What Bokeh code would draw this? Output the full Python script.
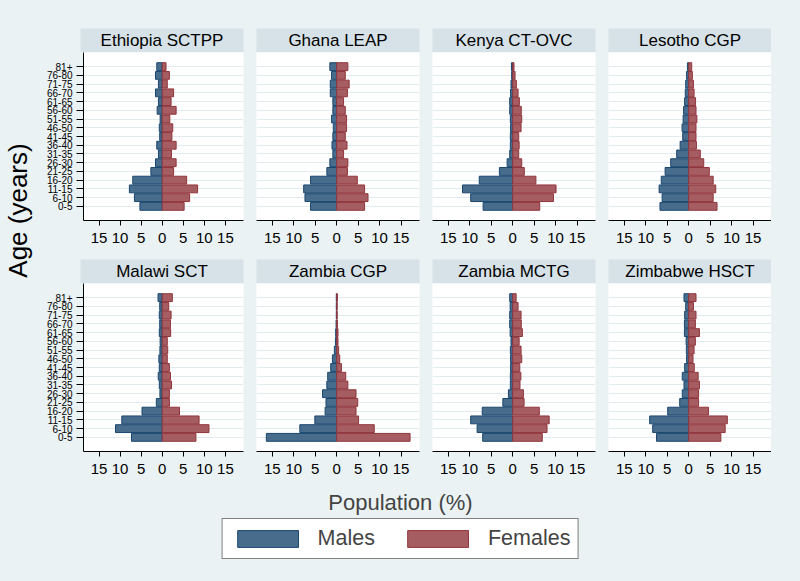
from bokeh.plotting import figure
from bokeh.layouts import row, column
from bokeh.models import (ColumnDataSource, FactorRange, Range1d, FixedTicker, Label,
                          Legend, LegendItem, Spacer, Title, GlobalInlineStyleSheet)
from bokeh.embed import file_html
from bokeh.resources import INLINE

# ---------------- data ----------------
age_groups = ["0-5", "6-10", "11-15", "16-20", "21-25", "26-30", "31-35", "36-40", "41-45",
              "46-50", "51-55", "56-60", "61-65", "66-70", "71-75", "76-80", "81+"]

programs = ["Ethiopia SCTPP", "Ghana LEAP", "Kenya CT-OVC", "Lesotho CGP",
            "Malawi SCT", "Zambia CGP", "Zambia MCTG", "Zimbabwe HSCT"]

ethiopia_m = [5.3, 6.6, 7.8, 7.0, 2.7, 1.6, 0.9, 1.3, 0.6, 0.7, 0.5, 1.2, 0.9, 1.6, 0.9, 1.6, 1.3]
ethiopia_f = [5.2, 6.5, 8.4, 5.8, 2.7, 3.3, 2.2, 3.3, 2.3, 2.5, 1.8, 3.3, 2.1, 2.7, 1.2, 1.7, 0.9]
ghana_m = [6.1, 7.4, 7.7, 6.1, 2.3, 1.6, 0.9, 1.1, 0.9, 0.8, 1.2, 0.9, 0.9, 1.5, 1.5, 1.2, 1.6]
ghana_f = [6.5, 7.3, 6.5, 4.8, 2.5, 2.6, 1.6, 2.4, 2.0, 2.3, 2.3, 2.0, 1.6, 2.5, 2.9, 2.0, 2.6]
kenya_m = [6.9, 9.8, 11.7, 7.8, 3.1, 1.3, 0.7, 0.55, 0.55, 0.5, 0.55, 0.7, 0.7, 0.5, 0.4, 0.25, 0.3]
kenya_f = [6.3, 9.5, 10.1, 5.4, 2.7, 2.1, 1.4, 1.5, 1.4, 1.95, 2.1, 2.0, 1.55, 1.25, 0.85, 0.55, 0.3]
lesotho_m = [6.7, 6.2, 6.9, 6.4, 5.5, 4.2, 2.8, 2.0, 1.4, 1.55, 1.3, 1.2, 0.95, 0.8, 0.7, 0.5, 0.3]
lesotho_f = [6.6, 5.7, 6.3, 5.7, 4.8, 3.5, 2.7, 1.8, 1.7, 1.7, 1.9, 1.7, 1.6, 1.25, 1.1, 0.85, 0.7]
malawi_m = [7.3, 11.1, 9.6, 4.8, 1.4, 0.55, 0.7, 0.95, 0.7, 0.8, 0.55, 0.5, 0.7, 0.6, 0.7, 0.6, 1.0]
malawi_f = [8.0, 11.1, 8.75, 4.1, 1.7, 1.7, 2.2, 1.95, 1.7, 1.2, 1.3, 1.2, 2.0, 1.95, 2.1, 1.55, 2.4]
zambia_cgp_m = [16.4, 8.6, 5.1, 2.7, 2.5, 3.3, 2.3, 2.1, 1.4, 1.0, 0.55, 0.3, 0.25, 0.15, 0.1, 0.1, 0.1]
zambia_cgp_f = [17.1, 8.75, 5.1, 4.5, 4.9, 4.5, 2.6, 2.1, 1.1, 0.7, 0.45, 0.3, 0.3, 0.15, 0.1, 0.1, 0.15]
zambia_mctg_m = [7.0, 8.3, 9.8, 7.1, 2.3, 1.0, 0.55, 0.55, 0.5, 0.5, 0.55, 0.4, 0.6, 0.7, 0.7, 0.6, 0.7]
zambia_mctg_f = [6.9, 8.0, 8.5, 6.2, 2.65, 2.5, 1.7, 1.9, 1.65, 2.1, 1.95, 1.5, 2.25, 2.0, 1.95, 1.25, 0.8]
zimbabwe_m = [7.5, 8.4, 9.1, 4.9, 2.1, 1.5, 1.1, 1.5, 0.95, 0.5, 0.55, 0.6, 1.0, 1.0, 0.95, 0.7, 1.1]
zimbabwe_f = [7.5, 8.5, 9.0, 4.6, 2.3, 2.3, 2.5, 2.2, 1.3, 1.0, 1.25, 1.55, 2.5, 1.55, 1.7, 1.1, 1.7]

males = [ethiopia_m, ghana_m, kenya_m, lesotho_m, malawi_m, zambia_cgp_m, zambia_mctg_m, zimbabwe_m]
females = [ethiopia_f, ghana_f, kenya_f, lesotho_f, malawi_f, zambia_cgp_f, zambia_mctg_f, zimbabwe_f]

x_ticks = [-15, -10, -5, 0, 5, 10, 15]
x_tick_labels = ["15", "10", "5", "0", "5", "10", "15"]

legend_labels = ["Males", "Females"]

# ---------------- style ----------------
BG = "#eaf2f3"
STRIP = "#d6e2e7"
GRID = "#e2ebee"
MALE_FILL, MALE_LINE = "#486c8c", "#1a476f"
FEM_FILL, FEM_LINE = "#a65d62", "#90353b"
FONT = "Liberation Sans"

FRAME_W, FRAME_H = 163, 168
GAP = 13
LEFT_AX = 37
AXIS_H = 39
STRIP_H = 24
AGE_W = 43


def fig_width(col):
    return FRAME_W + (LEFT_AX if col == 0 else 0) + (0 if col == 3 else GAP)


def make_strip(name, col):
    s = figure(width=fig_width(col), height=STRIP_H, x_range=Range1d(0, 1), y_range=Range1d(0, 1),
               output_backend="svg", toolbar_location=None,
               x_axis_location=None, y_axis_location=None,
               min_border_left=LEFT_AX if col == 0 else 0,
               min_border_right=0 if col == 3 else GAP,
               min_border_top=0, min_border_bottom=0)
    s.background_fill_color = STRIP
    s.border_fill_color = BG
    s.outline_line_color = None
    s.grid.visible = False
    s.add_layout(Label(x=0.5, y=0.5, text=name, text_align="center", text_baseline="middle",
                       text_font_size="17px", text_font=FONT, text_font_style="normal",
                       text_color="black"))
    return s


def make_panel(m_vals, f_vals, col, axis_h):
    p = figure(width=fig_width(col), height=FRAME_H + axis_h,
               x_range=Range1d(-18.7, 19.3),
               y_range=FactorRange(*age_groups, range_padding=1.12, range_padding_units="absolute"),
               output_backend="svg", toolbar_location=None,
               y_axis_location="left" if col == 0 else None,
               min_border_left=LEFT_AX if col == 0 else 0,
               min_border_right=0 if col == 3 else GAP,
               min_border_top=0, min_border_bottom=axis_h)
    p.background_fill_color = "white"
    p.border_fill_color = BG
    p.outline_line_color = None
    p.xgrid.visible = False
    p.ygrid.grid_line_color = GRID
    p.ygrid.grid_line_width = 1.2

    src = ColumnDataSource(dict(age=age_groups, m=[-v for v in m_vals], f=f_vals))
    p.hbar(y="age", left="m", right=0, height=0.9, source=src,
           fill_color=MALE_FILL, line_color=MALE_LINE, line_width=1)
    p.hbar(y="age", left=0, right="f", height=0.9, source=src,
           fill_color=FEM_FILL, line_color=FEM_LINE, line_width=1)

    xa = p.xaxis[0]
    xa.ticker = FixedTicker(ticks=x_ticks)
    xa.major_label_overrides = {t: l for t, l in zip(x_ticks, x_tick_labels)}
    xa.major_tick_out = 5
    xa.major_tick_in = 0
    xa.minor_tick_out = 0
    xa.minor_tick_in = 0
    xa.axis_line_color = "black"
    xa.major_tick_line_color = "black"
    xa.major_label_text_font_size = "15px"
    xa.major_label_text_font = FONT
    xa.major_label_text_color = "black"
    xa.major_label_standoff = 7

    if col == 0:
        ya = p.yaxis[0]
        ya.major_tick_out = 7
        ya.major_tick_in = 0
        ya.axis_line_color = "black"
        ya.major_tick_line_color = "black"
        ya.major_label_text_font_size = "10px"
        ya.major_label_text_font = FONT
        ya.major_label_text_color = "black"
        ya.major_label_standoff = 4
    return p


strips = [make_strip(n, i % 4) for i, n in enumerate(programs)]
panels = [make_panel(males[i], females[i], i % 4, AXIS_H if i < 4 else 36)
          for i in range(len(programs))]

grid_col = column(
    Spacer(height=28),
    row(*strips[:4]),
    row(*panels[:4]),
    row(*strips[4:]),
    row(*panels[4:]),
)

# y-axis title
age_fig = figure(width=AGE_W, height=420, output_backend="svg", toolbar_location=None,
                 x_axis_location=None, y_axis_location=None,
                 min_border_left=11, min_border_right=0, min_border_top=0, min_border_bottom=0)
age_fig.border_fill_color = BG
age_fig.background_fill_color = BG
age_fig.outline_line_color = None
age_fig.grid.visible = False
age_fig.add_layout(Title(text="Age (years)", align="center", text_font_size="26px",
                         text_font=FONT, text_font_style="normal", text_color="black",
                         standoff=0), "left")

# x title + legend
bottom = figure(width=792, height=86, x_range=Range1d(0, 1), y_range=Range1d(0, 1),
                output_backend="svg", toolbar_location=None,
                x_axis_location=None, y_axis_location=None,
                min_border_left=8, min_border_right=0, min_border_top=0, min_border_bottom=0)
bottom.border_fill_color = BG
bottom.background_fill_color = BG
bottom.outline_line_color = None
bottom.grid.visible = False
bottom.title.text = "Population (%)"
bottom.title.align = "center"
bottom.title.text_font_size = "22px"
bottom.title.text_font = FONT
bottom.title.text_font_style = "normal"
bottom.title.standoff = 0
# legend-only swatch renderers (hidden; used as legend keys)
key_src = ColumnDataSource(dict(y=[0.5], left=[0], right=[1]))
rm = bottom.hbar(y="y", left="left", right="right", height=0.5, source=key_src,
                 fill_color=MALE_FILL, line_color=MALE_LINE, visible=False)
rf = bottom.hbar(y="y", left="left", right="right", height=0.5, source=key_src,
                 fill_color=FEM_FILL, line_color=FEM_LINE, visible=False)
legend = Legend(items=[LegendItem(label=legend_labels[0], renderers=[rm]),
                       LegendItem(label=legend_labels[1], renderers=[rf])],
                orientation="horizontal", location="top_center",
                glyph_width=76, glyph_height=21, label_standoff=12, spacing=25,
                padding=7, margin=4, border_line_color="black", border_line_width=1,
                background_fill_color="white", background_fill_alpha=1,
                inactive_fill_alpha=0,
                label_text_font_size="21.5px", label_text_font=FONT)
bottom.add_layout(legend, "center")

layout = column(row(age_fig, grid_col), bottom,
                stylesheets=[GlobalInlineStyleSheet(css="html, body { background-color: #eaf2f3; }")])

open("out.html", "w").write(file_html(layout, INLINE))
